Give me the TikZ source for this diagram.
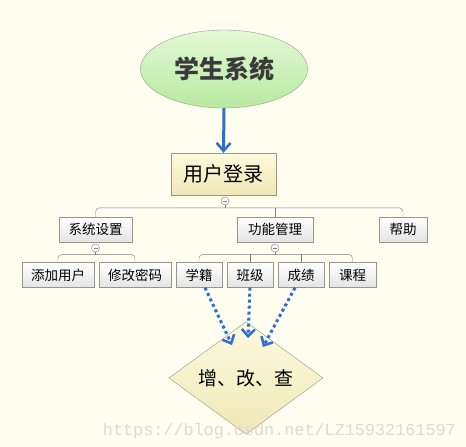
\documentclass[tikz,border=0pt]{standalone}
\usepackage{fontspec}
\newfontfamily\cjk{Noto Sans CJK SC}
\newfontfamily\markfont{Liberation Mono}
\usetikzlibrary{shapes,shapes.geometric,arrows,arrows.meta,positioning}

\definecolor{paper}{RGB}{254,253,239}
\definecolor{greentop}{RGB}{228,249,214}
\definecolor{greenbottom}{RGB}{184,232,160}
\definecolor{greenedge}{RGB}{140,170,130}
\definecolor{yellowtop}{RGB}{253,250,222}
\definecolor{yellowbottom}{RGB}{240,232,182}
\definecolor{boxedge}{RGB}{150,150,140}
\definecolor{greybottom}{RGB}{228,228,228}
\definecolor{arrowblue}{RGB}{45,110,210}

\begin{document}
\begin{tikzpicture}
					[
						x=1pt, y=-1pt,
						rootnode/.style={ellipse, draw=greenedge, top color=greentop, bottom color=greenbottom, minimum width=167pt, minimum height=78pt, inner sep=0pt, text={rgb,255:red,58;green,58;blue,58}, font=\cjk\bfseries\fontsize{25}{25}\selectfont},
						loginnode/.style={rectangle, draw=boxedge, top color=yellowtop, bottom color=yellowbottom, minimum width=105pt, minimum height=42pt, inner sep=0pt, font=\cjk\fontsize{20}{20}\selectfont},
						menunode/.style={rectangle, draw=boxedge, top color=white, bottom color=greybottom, minimum height=25pt, inner sep=0pt, font=\cjk\fontsize{13.5}{13.5}\selectfont},
						querynode/.style={diamond, draw=boxedge, top color=yellowtop, bottom color=yellowbottom, minimum width=154pt, minimum height=83pt, inner sep=0pt, font=\cjk\fontsize{19}{19}\selectfont},
						foldnode/.style={circle, draw=gray, fill=white, minimum size=8pt, inner sep=0pt, path picture={\draw[gray] ([xshift=-2pt]path picture bounding box.center) -- ([xshift=2pt]path picture bounding box.center);}},
						treeline/.style={draw=gray, rounded corners=4pt},
						mainarrow/.style={arrowblue, line width=3pt, -{Straight Barb[length=8pt,width=14pt,line width=2.5pt]}},
						dotarrow/.style={arrowblue, line width=3pt, dash pattern=on 3pt off 3pt, -{Straight Barb[length=7pt,width=13pt,line width=2.5pt]}},
						watermark/.style={text={rgb,255:red,220;green,220;blue,214}, font=\markfont\fontsize{16.8}{16.8}\selectfont, inner sep=0pt},
					]

					\fill[paper] (0,0) rectangle (466,447);

					\node[rootnode] (system) at (224,69) {学生系统};
					\node[loginnode] (login) at (223.5,174) {用户登录};
					\node[foldnode] (foldlogin) at (225,201) {};

					\node[menunode, minimum width=73pt] (sysset) at (95.5,229.5) {系统设置};
					\node[menunode, minimum width=76pt] (funcmgr) at (275,229.5) {功能管理};
					\node[menunode, minimum width=48pt] (help) at (403,229.5) {帮助};
					\node[foldnode] (foldsys) at (95.5,248) {};
					\node[foldnode] (foldfunc) at (275,248) {};

					\node[menunode, minimum width=72pt] (adduser) at (58,275) {添加用户};
					\node[menunode, minimum width=72pt] (changepwd) at (135,275) {修改密码};
					\node[menunode, minimum width=46pt] (record) at (199,275) {学籍};
					\node[menunode, minimum width=46pt] (classes) at (250,275) {班级};
					\node[menunode, minimum width=46pt] (grades) at (301,275) {成绩};
					\node[menunode, minimum width=47pt] (course) at (352.5,275) {课程};

					\node[querynode] (query) at (246,378) {增、改、查};

					\node[watermark, anchor=base east] (mark) at (456,435) {https://blog.csdn.net/LZ15932161597};

					\draw[mainarrow] (system.south) -- (login.north);

					\draw[treeline] (foldlogin.south) -- ++(0,3);
					\draw[treeline] (sysset.north) -- ++(0,-9) -| (help.north);
					\draw[treeline] (funcmgr.north) -- ++(0,-9);

					\draw[treeline] (foldsys.south) -- ++(0,3);
					\draw[treeline] (adduser.north) -- ++(0,-8) -| (changepwd.north);
					\draw[treeline] (foldfunc.south) -- ++(0,3);
					\draw[treeline] (record.north) -- ++(0,-8) -| (course.north);
					\draw[treeline] (classes.north) -- ++(0,-8);
					\draw[treeline] (grades.north) -- ++(0,-8);

					\coordinate (tipleft) at (232,345);
					\coordinate (tipmid) at (248,338);
					\coordinate (tipright) at (263,347);
					\draw[dotarrow] ([xshift=6pt]record.south) -- (tipleft);
					\draw[dotarrow] (classes.south) -- (tipmid);
					\draw[dotarrow] ([xshift=-6pt]grades.south) -- (tipright);

				\end{tikzpicture}
\end{document}
